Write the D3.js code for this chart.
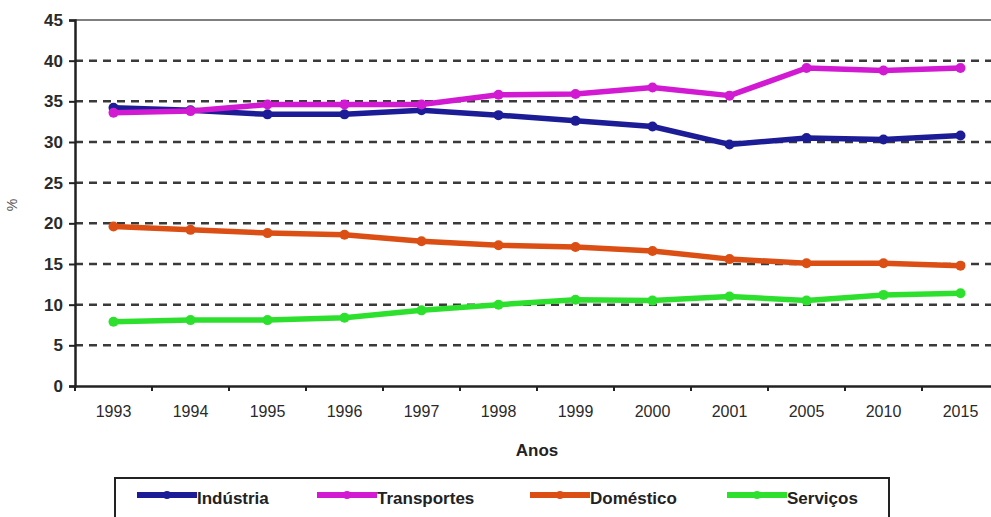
<!DOCTYPE html>
<html><head><meta charset="utf-8">
<script src="https://cdn.jsdelivr.net/npm/d3@7"></script>
<style>body{margin:0;background:#fff;}svg{display:block;font-family:"Liberation Sans",Arial,sans-serif;}</style>
</head><body><svg id="c" width="991" height="517"></svg>
<script>
const years = ["1993","1994","1995","1996","1997","1998","1999","2000","2001","2005","2010","2015"];
const industria   = [34.2,33.9,33.4,33.4,33.9,33.3,32.6,31.9,29.7,30.5,30.3,30.8];
const transportes = [33.6,33.8,34.6,34.6,34.6,35.8,35.9,36.7,35.7,39.1,38.8,39.1];
const domestico   = [19.6,19.2,18.8,18.6,17.8,17.3,17.1,16.6,15.6,15.1,15.1,14.8];
const servicos    = [7.9,8.1,8.1,8.4,9.3,10.0,10.6,10.5,11.0,10.5,11.2,11.4];
const yTicks = [0,5,10,15,20,25,30,35,40,45];
const seriesNames = ["Indústria","Transportes","Doméstico","Serviços"];
const seriesColors = ["#1c1c96","#d21ad2","#dc4f14","#2ee02e"];
const seriesData = [industria, transportes, domestico, servicos];

(function(){
const svg = d3.select("#c");
const mLeft = 75, mRight = 999, mTop = 20, mBottom = 386;
const x = d3.scaleBand().domain(years).range([mLeft, mRight]);
const y = d3.scaleLinear().domain([0,45]).range([mBottom, mTop]);

// gridlines
svg.append("g").selectAll("line").data(yTicks.filter(d=>d>0&&d<45)).join("line")
  .attr("x1", mLeft).attr("x2", 991).attr("y1", d=>y(d)).attr("y2", d=>y(d))
  .attr("stroke", "#3a3a3a").attr("stroke-width", 2.5).attr("stroke-dasharray", "8,6");
// top border
svg.append("line").attr("x1", mLeft).attr("x2", 991).attr("y1", y(45)).attr("y2", y(45))
  .attr("stroke", "#555").attr("stroke-width", 1.5);

// y axis
const ya = svg.append("g").attr("transform", `translate(${mLeft},0)`)
  .call(d3.axisLeft(y).tickValues(yTicks).tickSize(6).tickPadding(6));
ya.select(".domain").attr("stroke", "#222").attr("stroke-width", 2.5);
ya.selectAll(".tick line").attr("stroke", "#222").attr("stroke-width", 2);
ya.selectAll("text").attr("font-size", 17).attr("font-weight", "bold").attr("fill", "#2a2a2a");

// x axis
const xa = svg.append("g").attr("transform", `translate(0,${mBottom})`)
  .call(d3.axisBottom(x).tickSize(0).tickPadding(20));
xa.select(".domain").attr("stroke", "#222").attr("stroke-width", 2.5);
xa.selectAll("text").attr("font-size", 16).attr("fill", "#2a2a2a");
svg.append("g").selectAll("line").data(years).join("line")
  .attr("x1", d=>x(d)).attr("x2", d=>x(d)).attr("y1", mBottom).attr("y2", mBottom+5)
  .attr("stroke", "#222").attr("stroke-width", 2);

// axis titles
svg.append("text").attr("x", (mLeft+mRight)/2).attr("y", 456).attr("text-anchor","middle")
  .attr("font-size", 17).attr("font-weight","bold").attr("fill","#222").text("Anos");
svg.append("text").attr("transform", "translate(17,205) rotate(-90)").attr("text-anchor","middle")
  .attr("font-size", 14).attr("fill","#555").text("%");

// lines
const line = d3.line().x((d,i)=>x(years[i]) + x.bandwidth()/2).y(d=>y(d));
seriesData.forEach((vals, k) => {
  const g = svg.append("g");
  g.append("path").datum(vals).attr("d", line).attr("fill","none")
    .attr("stroke", seriesColors[k]).attr("stroke-width", 5.5).attr("stroke-linejoin","round");
  g.selectAll("circle").data(vals).join("circle")
    .attr("cx", (d,i)=>x(years[i]) + x.bandwidth()/2).attr("cy", d=>y(d)).attr("r", 5)
    .attr("fill", seriesColors[k]);
});

// legend
const lg = svg.append("g");
lg.append("rect").attr("x", 115).attr("y", 478).attr("width", 774).attr("height", 45)
  .attr("fill","#fff").attr("stroke","#222").attr("stroke-width", 2);
const legX = [137, 317, 530, 727];
seriesNames.forEach((n,k) => {
  lg.append("line").attr("x1", legX[k]).attr("x2", legX[k]+60).attr("y1", 495).attr("y2", 495)
    .attr("stroke", seriesColors[k]).attr("stroke-width", 6);
  lg.append("circle").attr("cx", legX[k]+30).attr("cy", 495).attr("r", 4).attr("fill", seriesColors[k]);
  lg.append("text").attr("x", legX[k]+60).attr("y", 504).attr("font-size", 17).attr("font-weight","bold")
    .attr("fill","#222").text(n);
});
})();
</script></body></html>
